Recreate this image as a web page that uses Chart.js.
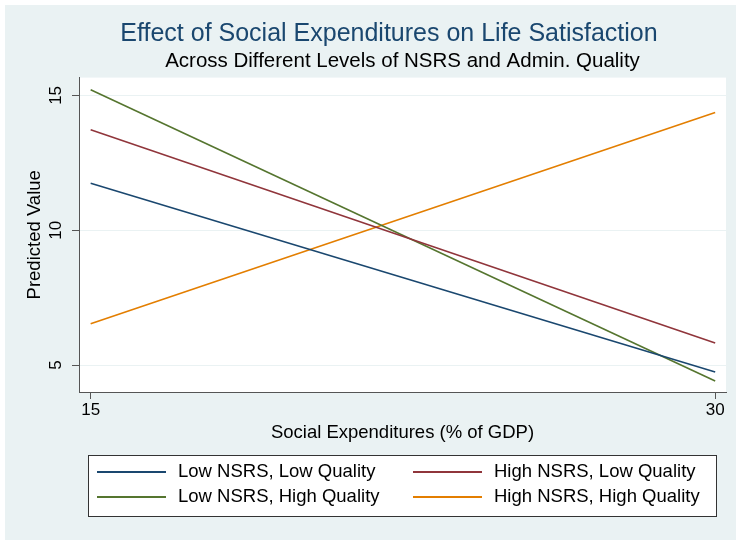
<!DOCTYPE html>
<html lang="en">
<head>
    <meta charset="UTF-8">
    <title>Effect of Social Expenditures on Life Satisfaction</title>
    <script src="https://cdn.jsdelivr.net/npm/chart.js"></script>
    <style>
        body { margin: 0; background: #ffffff; }
    </style>
</head>
<body>
    <canvas id="marginsChart" width="736" height="540"></canvas>

    <script>
        // predicted values at the two ends of the social expenditure range
        const socialExp = [15, 30];
        const lowNsrsLowQual = [11.74, 4.74];
        const highNsrsLowQual = [13.73, 5.82];
        const lowNsrsHighQual = [15.21, 4.41];
        const highNsrsHighQual = [6.53, 14.37];

        const seriesLabels = [
            'Low NSRS, Low Quality',
            'High NSRS, Low Quality',
            'Low NSRS, High Quality',
            'High NSRS, High Quality'
        ];
        const xTicks = [15, 30];
        const yTicks = [5, 10, 15];

        const lineColors = ['#1a476f', '#90353b', '#55752f', '#e37e00'];
        const seriesValues = [lowNsrsLowQual, highNsrsLowQual, lowNsrsHighQual, highNsrsHighQual];

        const fontFamily = "'Liberation Sans', Arial, sans-serif";
        const bgColor = '#eaf2f3';
        const axisColor = '#555555';

        const datasets = seriesLabels.map((label, i) => ({
            label: label,
            data: socialExp.map((x, j) => ({ x: x, y: seriesValues[i][j] })),
            borderColor: lineColors[i],
            backgroundColor: lineColors[i],
            borderWidth: 1.6,
            pointRadius: 0,
            tension: 0
        }));

        // stata-like backdrop: grey-blue graph region, white plot region
        const backdrop = {
            id: 'backdrop',
            beforeDraw(chart) {
                const { ctx, chartArea } = chart;
                ctx.save();
                ctx.fillStyle = '#ffffff';
                ctx.fillRect(0, 0, chart.width, chart.height);
                ctx.fillStyle = bgColor;
                ctx.fillRect(5, 5, chart.width - 5, chart.height - 5);
                ctx.fillStyle = '#ffffff';
                ctx.fillRect(chartArea.left, chartArea.top,
                    chartArea.right - chartArea.left, chartArea.bottom - chartArea.top);
                ctx.restore();
            }
        };

        // vertical tick labels and title on the y axis
        const yAxisText = {
            id: 'yAxisText',
            afterDraw(chart) {
                const { ctx, chartArea } = chart;
                const y = chart.scales.y;
                ctx.save();
                ctx.fillStyle = '#000000';
                ctx.textAlign = 'center';
                ctx.textBaseline = 'middle';
                ctx.font = '17px ' + fontFamily;
                yTicks.forEach(v => {
                    ctx.save();
                    ctx.translate(56, y.getPixelForValue(v));
                    ctx.rotate(-Math.PI / 2);
                    ctx.fillText(String(v), 0, 0);
                    ctx.restore();
                });
                ctx.font = '18.5px ' + fontFamily;
                ctx.translate(35, (chartArea.top + chartArea.bottom) / 2);
                ctx.rotate(-Math.PI / 2);
                ctx.fillText('Predicted Value', 0, 0);
                ctx.restore();
            }
        };

        // two-column legend in a framed box below the x axis
        const boxLegend = {
            id: 'boxLegend',
            afterDraw(chart, args, opts) {
                const { ctx } = chart;
                const b = opts.box;
                ctx.save();
                ctx.fillStyle = '#ffffff';
                ctx.fillRect(b.left, b.top, b.right - b.left, b.bottom - b.top);
                ctx.strokeStyle = '#333333';
                ctx.lineWidth = 1;
                ctx.strokeRect(b.left + 0.5, b.top + 0.5, b.right - b.left, b.bottom - b.top);
                ctx.font = '18.5px ' + fontFamily;
                ctx.textBaseline = 'middle';
                ctx.textAlign = 'left';
                chart.data.datasets.forEach((ds, i) => {
                    const x = opts.cols[i % 2];
                    const y = opts.rows[Math.floor(i / 2)];
                    ctx.strokeStyle = ds.borderColor;
                    ctx.lineWidth = 2;
                    ctx.beginPath();
                    ctx.moveTo(x, y);
                    ctx.lineTo(x + opts.lineLen, y);
                    ctx.stroke();
                    ctx.fillStyle = '#000000';
                    ctx.fillText(ds.label, x + opts.lineLen + 12, y);
                });
                ctx.restore();
            }
        };

        const ctx = document.getElementById('marginsChart').getContext('2d');
        new Chart(ctx, {
            type: 'line',
            data: { datasets: datasets },
            plugins: [backdrop, yAxisText, boxLegend],
            options: {
                responsive: false,
                animation: false,
                layout: { padding: { left: 52, right: 10, top: 0, bottom: 88 } },
                plugins: {
                    legend: { display: false },
                    tooltip: { enabled: false },
                    title: {
                        display: true,
                        text: 'Effect of Social Expenditures on Life Satisfaction',
                        color: '#1a476f',
                        font: { family: fontFamily, size: 25, weight: 'normal' },
                        padding: { top: 19, bottom: 0 }
                    },
                    subtitle: {
                        display: true,
                        fullSize: false,
                        text: 'Across Different Levels of NSRS and Admin. Quality',
                        color: '#000000',
                        font: { family: fontFamily, size: 20.5, weight: 'normal' },
                        padding: { top: 0, bottom: 4 }
                    },
                    boxLegend: {
                        box: { left: 88, top: 455, right: 716, bottom: 516 },
                        cols: [97, 413],
                        rows: [472, 497],
                        lineLen: 69
                    }
                },
                scales: {
                    x: {
                        type: 'linear',
                        min: 14.72,
                        max: 30.26,
                        afterBuildTicks: axis => { axis.ticks = xTicks.map(v => ({ value: v })); },
                        afterFit: axis => { axis.height = 60; },
                        border: { display: true, color: axisColor, width: 1 },
                        grid: { drawOnChartArea: false, drawTicks: true, tickLength: 7, tickColor: axisColor },
                        ticks: {
                            color: '#000000',
                            padding: 1,
                            maxRotation: 0,
                            font: { family: fontFamily, size: 17 }
                        },
                        title: {
                            display: true,
                            text: 'Social Expenditures (% of GDP)',
                            color: '#000000',
                            font: { family: fontFamily, size: 18.5 },
                            padding: { top: 0, bottom: 8 }
                        }
                    },
                    y: {
                        type: 'linear',
                        min: 4.0,
                        max: 15.66,
                        afterBuildTicks: axis => { axis.ticks = yTicks.map(v => ({ value: v })); },
                        afterFit: axis => { axis.width = 27; },
                        border: { display: true, color: axisColor, width: 1 },
                        grid: { color: bgColor, lineWidth: 1, drawTicks: true, tickLength: 7, tickColor: axisColor },
                        ticks: { display: false }
                    }
                }
            }
        });
    </script>
</body>
</html>
